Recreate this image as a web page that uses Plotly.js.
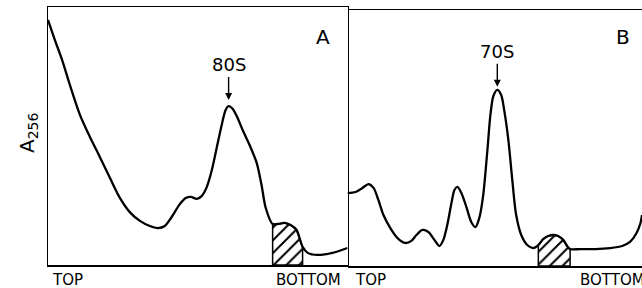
<!DOCTYPE html>
<html>
<head>
<meta charset="utf-8">
<script src="https://cdn.plot.ly/plotly-3.0.1.min.js"></script>
<style>html,body{margin:0;padding:0;background:#fff;}#chart{width:642px;height:288px;}</style>
</head>
<body>
<div id="chart"></div>
<script>
// Panel A (80S) — position along gradient (0 = top, 1 = bottom), relative A256
const xA = [0,0.023,0.047,0.073,0.107,0.140,0.173,0.207,0.240,0.273,0.307,0.340,0.367,0.390,0.413,0.440,0.460,0.477,0.497,0.513,0.530,0.547,0.563,0.580,0.593,0.603,0.617,0.633,0.650,0.673,0.697,0.713,0.727,0.750,0.767,0.790,0.810,0.830,0.850,0.867,0.900,0.950,1.000];
const yA = [0.950,0.872,0.795,0.698,0.581,0.496,0.419,0.337,0.260,0.205,0.171,0.151,0.143,0.151,0.186,0.236,0.260,0.264,0.256,0.267,0.302,0.368,0.453,0.543,0.601,0.616,0.605,0.570,0.523,0.465,0.395,0.310,0.221,0.159,0.159,0.163,0.155,0.136,0.070,0.047,0.039,0.047,0.066];
// Panel B (70S)
const xB = [0,0.027,0.050,0.070,0.087,0.103,0.120,0.143,0.167,0.193,0.213,0.230,0.250,0.270,0.290,0.307,0.320,0.333,0.347,0.357,0.367,0.380,0.397,0.413,0.427,0.440,0.453,0.467,0.477,0.487,0.500,0.513,0.523,0.537,0.550,0.563,0.580,0.600,0.620,0.637,0.653,0.670,0.687,0.703,0.720,0.733,0.743,0.777,0.827,0.877,0.917,0.943,0.963,0.977,0.983];
const yB = [0.285,0.289,0.305,0.320,0.305,0.258,0.199,0.148,0.109,0.090,0.098,0.121,0.141,0.133,0.102,0.078,0.102,0.160,0.246,0.297,0.309,0.285,0.230,0.172,0.152,0.188,0.277,0.453,0.590,0.664,0.688,0.668,0.609,0.492,0.336,0.199,0.121,0.082,0.070,0.082,0.105,0.117,0.121,0.117,0.102,0.078,0.066,0.066,0.066,0.070,0.078,0.094,0.125,0.164,0.199];
// hatched fractions
const hatchA = [0.750, 0.850];
const hatchB = [0.637, 0.743];
// peak positions marked with arrows
const peakX = [0.603, 0.500];
const peakLabels = ["80S", "70S"];
const panelLabels = ["A", "B"];
const endLabels = ["TOP", "BOTTOM"];

function hatchTrace(xs, ys, lim, xa, ya) {
  const hx = [], hy = [];
  hx.push(lim[0]); hy.push(0);
  for (let i = 0; i < xs.length; i++) {
    if (xs[i] >= lim[0] - 1e-9 && xs[i] <= lim[1] + 1e-9) { hx.push(xs[i]); hy.push(ys[i]); }
  }
  hx.push(lim[1]); hy.push(0);
  hx.push(lim[0]); hy.push(0);
  return {x: hx, y: hy, xaxis: xa, yaxis: ya, type: 'scatter', mode: 'lines', fill: 'toself',
    fillcolor: 'white',
    fillpattern: {shape: '/', fgcolor: 'black', bgcolor: 'white', size: 9, solidity: 0.22},
    line: {color: 'black', width: 1.5}, hoverinfo: 'skip', showlegend: false};
}

const traces = [
  hatchTrace(xA, yA, hatchA, 'x', 'y'),
  hatchTrace(xB, yB, hatchB, 'x2', 'y2'),
  {x: xA, y: yA, xaxis: 'x', yaxis: 'y', type: 'scatter', mode: 'lines',
   line: {color: 'black', width: 2.3, shape: 'spline', smoothing: 0.8}, showlegend: false},
  {x: xB, y: yB, xaxis: 'x2', yaxis: 'y2', type: 'scatter', mode: 'lines',
   line: {color: 'black', width: 2.3, shape: 'spline', smoothing: 0.8}, showlegend: false}
];

const fnt = {family: 'DejaVu Sans, sans-serif', color: 'black'};
const axBase = {showgrid: false, zeroline: false, showticklabels: false, ticks: '', showline: true, linecolor: 'black', linewidth: 1.5, fixedrange: true};
const split = 347.5 / 642;

const pyA = yA[xA.indexOf(peakX[0])];
const pyB = yB[xB.indexOf(peakX[1])];

function txt(x, y, text, size, xanchor, extra) {
  return Object.assign({xref: 'paper', yref: 'paper', x: x / 642, y: 1 - y / 288, text: text, showarrow: false,
    xanchor: xanchor, yanchor: 'middle', font: Object.assign({}, fnt, {size: size})}, extra || {});
}

const layout = {
  width: 642, height: 288,
  margin: {l: 0, r: 0, t: 0, b: 0},
  paper_bgcolor: 'white', plot_bgcolor: 'white',
  showlegend: false,
  xaxis: Object.assign({}, axBase, {domain: [48 / 642, split], range: [0, 1], mirror: true, anchor: 'y'}),
  yaxis: Object.assign({}, axBase, {domain: [(288 - 265) / 288, (288 - 7) / 288], range: [0, 1], mirror: true, anchor: 'x'}),
  xaxis2: Object.assign({}, axBase, {domain: [split, 1], range: [0, 0.983], mirror: true, anchor: 'y2'}),
  yaxis2: Object.assign({}, axBase, {domain: [(288 - 266) / 288, (288 - 10) / 288], range: [0, 1], showline: false, anchor: 'x2'}),
  annotations: [
    {xref: 'x', yref: 'y', x: peakX[0], y: pyA + 0.024, text: peakLabels[0], showarrow: true, ax: 0, ay: -35,
     arrowhead: 2, arrowsize: 1, arrowwidth: 1.4, arrowcolor: 'black', standoff: 0, font: Object.assign({}, fnt, {size: 18})},
    {xref: 'x2', yref: 'y2', x: peakX[1], y: pyB + 0.012, text: peakLabels[1], showarrow: true, ax: 0, ay: -35,
     arrowhead: 2, arrowsize: 1, arrowwidth: 1.4, arrowcolor: 'black', standoff: 0, font: Object.assign({}, fnt, {size: 18})},
    txt(323, 37, panelLabels[0], 20, 'center'),
    txt(623, 37, panelLabels[1], 20, 'center'),
    txt(28, 133, 'A<sub>256</sub>', 20, 'center', {textangle: -90}),
    txt(50, 280, endLabels[0], 15, 'left'),
    txt(343, 280, endLabels[1], 15, 'right'),
    txt(353, 280, endLabels[0], 15, 'left'),
    txt(578, 280, endLabels[1], 15, 'left')
  ]
};

Plotly.newPlot('chart', traces, layout, {staticPlot: true, displayModeBar: false});
</script>
</body>
</html>
